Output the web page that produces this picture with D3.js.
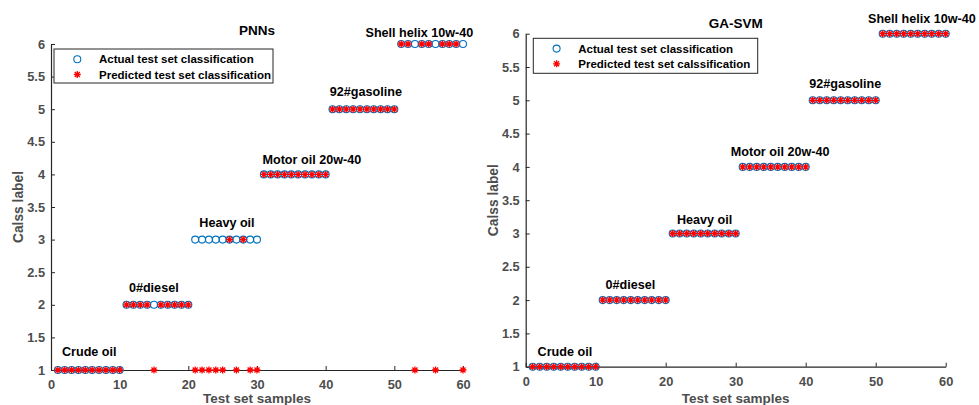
<!DOCTYPE html>
<html>
<head>
<meta charset="utf-8">
<script src="https://cdn.jsdelivr.net/npm/d3@7"></script>
<style>
  html, body { margin: 0; padding: 0; background: #fff; }
  svg { display: block; font-family: "Liberation Sans", Arial, sans-serif; }
</style>
</head>
<body>
<svg id="chart" width="979" height="405"></svg>
<script>
// ---------- data ----------
const xTicks = [0, 10, 20, 30, 40, 50, 60];
const yTicks = [1, 1.5, 2, 2.5, 3, 3.5, 4, 4.5, 5, 5.5, 6];

const actualClass = [
  1,1,1,1,1,1,1,1,1,1,
  2,2,2,2,2,2,2,2,2,2,
  3,3,3,3,3,3,3,3,3,3,
  4,4,4,4,4,4,4,4,4,4,
  5,5,5,5,5,5,5,5,5,5,
  6,6,6,6,6,6,6,6,6,6
];
const pnnPredicted = [
  1,1,1,1,1,1,1,1,1,1,
  2,2,2,2,1,2,2,2,2,2,
  1,1,1,1,1,3,1,3,1,1,
  4,4,4,4,4,4,4,4,4,4,
  5,5,5,5,5,5,5,5,5,5,
  6,6,1,6,6,1,6,6,6,1
];
const svmPredicted = [
  1,1,1,1,1,1,1,1,1,1,
  2,2,2,2,2,2,2,2,2,2,
  3,3,3,3,3,3,3,3,3,3,
  4,4,4,4,4,4,4,4,4,4,
  5,5,5,5,5,5,5,5,5,5,
  6,6,6,6,6,6,6,6,6,6
];
const classNames = ["Crude oil", "0#diesel", "Heavy oil", "Motor oil 20w-40", "92#gasoline", "Shell helix 10w-40"];
// annotation anchors in data units (x, y)
const pnnLabelX = [1.6, 11.35, 21.6, 30.8, 40.6, 45.8];
const pnnLabelY = [1.21, 2.2, 3.19, 4.16, 5.2, 6.11];
const svmLabelX = [1.7, 11.4, 21.6, 29.3, 40.5, 48.9];
const svmLabelY = [1.16, 2.17, 3.14, 4.17, 5.18, 6.16];

const panels = [
  { title: "PNNs", pred: pnnPredicted, lx: pnnLabelX, ly: pnnLabelY,
    legend: ["Actual test set classification", "Predicted test set classification"],
    x0: 51, x1: 463, yTop: 44, yBot: 370, titleY: 35,
    leg: { x: 54, y: 49, w: 219, h: 34 } },
  { title: "GA-SVM", pred: svmPredicted, lx: svmLabelX, ly: svmLabelY,
    legend: ["Actual test set classification", "Predicted test set calssification"],
    x0: 525.7, x1: 945.7, yTop: 33.7, yBot: 366.7, titleY: 28,
    leg: { x: 533.3, y: 38.3, w: 224.4, h: 35 } }
];

const blue = "#0072BD", red = "#FF0000", axisColor = "#262626", tickText = "#4D4D4D";
const svg = d3.select("#chart");

function star(g, cx, cy, r) {
  const d = `M${cx - r},${cy}L${cx + r},${cy}M${cx},${cy - r}L${cx},${cy + r}` +
            `M${cx - r * 0.72},${cy - r * 0.72}L${cx + r * 0.72},${cy + r * 0.72}` +
            `M${cx - r * 0.72},${cy + r * 0.72}L${cx + r * 0.72},${cy - r * 0.72}`;
  g.append("path").attr("d", d).attr("stroke", red).attr("stroke-width", 1.3).attr("fill", "none");
}

panels.forEach(p => {
  const x = d3.scaleLinear().domain([0, 60]).range([p.x0, p.x1]);
  const y = d3.scaleLinear().domain([1, 6]).range([p.yBot, p.yTop]);
  const g = svg.append("g");

  // x axis
  const xa = g.append("g").attr("transform", `translate(0,${p.yBot})`)
    .call(d3.axisBottom(x).tickValues(xTicks).tickSizeInner(-4).tickSizeOuter(0).tickPadding(10).tickFormat(d3.format("d")));
  xa.select(".domain").attr("stroke", axisColor).attr("stroke-width", 1.2);
  xa.selectAll(".tick line").attr("stroke", axisColor);
  xa.selectAll(".tick text").attr("fill", tickText).attr("font-size", "12.8px").attr("font-weight", "bold")
    .attr("dy", "0.71em");

  // y axis
  const ya = g.append("g").attr("transform", `translate(${p.x0},0)`)
    .call(d3.axisLeft(y).tickValues(yTicks).tickSizeInner(-4).tickSizeOuter(0).tickPadding(6).tickFormat(d => d3.format("~g")(d)));
  ya.select(".domain").attr("stroke", axisColor).attr("stroke-width", 1.2);
  ya.selectAll(".tick line").attr("stroke", axisColor);
  ya.selectAll(".tick text").attr("fill", tickText).attr("font-size", "12.8px").attr("font-weight", "bold");

  // axis labels
  g.append("text").attr("x", (p.x0 + p.x1) / 2).attr("y", 403).attr("text-anchor", "middle")
    .attr("font-size", "13.5px").attr("font-weight", "bold").attr("fill", tickText).text("Test set samples");
  g.append("text").attr("transform", `translate(${p.x0 - 28},${(p.yTop + p.yBot) / 2}) rotate(-90)`)
    .attr("text-anchor", "middle").attr("font-size", "13.8px").attr("font-weight", "bold").attr("fill", tickText)
    .text("Calss label");

  // title
  g.append("text").attr("x", (p.x0 + p.x1) / 2).attr("y", p.titleY).attr("text-anchor", "middle")
    .attr("font-size", "13.5px").attr("font-weight", "bold").attr("fill", "#000").text(p.title);

  // actual circles
  g.append("g").selectAll("circle").data(actualClass).join("circle")
    .attr("cx", (d, i) => x(i + 1)).attr("cy", d => y(d)).attr("r", 3.5)
    .attr("fill", "none").attr("stroke", blue).attr("stroke-width", 1.1);

  // predicted stars
  const sg = g.append("g");
  p.pred.forEach((d, i) => star(sg, x(i + 1), y(d), 3.5));

  // class annotations
  g.append("g").selectAll("text").data(classNames).join("text")
    .attr("x", (d, i) => x(p.lx[i])).attr("y", (d, i) => y(p.ly[i]))
    .attr("font-size", "12.6px").attr("font-weight", "bold").attr("fill", "#000").text(d => d);

  // legend
  const L = p.leg;
  const lg = g.append("g");
  lg.append("rect").attr("x", L.x).attr("y", L.y).attr("width", L.w).attr("height", L.h)
    .attr("fill", "#fff").attr("stroke", axisColor).attr("stroke-width", 1);
  const r1 = L.y + 10.3, r2 = L.y + 25.5;
  lg.append("circle").attr("cx", L.x + 23.3).attr("cy", r1).attr("r", 3.5)
    .attr("fill", "none").attr("stroke", blue).attr("stroke-width", 1.1);
  star(lg, L.x + 23.3, r2, 3.5);
  lg.append("text").attr("x", L.x + 45).attr("y", r1).attr("dy", "0.36em")
    .attr("font-size", "11.5px").attr("font-weight", "bold").attr("fill", "#000").text(p.legend[0]);
  lg.append("text").attr("x", L.x + 45).attr("y", r2).attr("dy", "0.36em")
    .attr("font-size", "11.5px").attr("font-weight", "bold").attr("fill", "#000").text(p.legend[1]);
});
</script>
</body>
</html>
